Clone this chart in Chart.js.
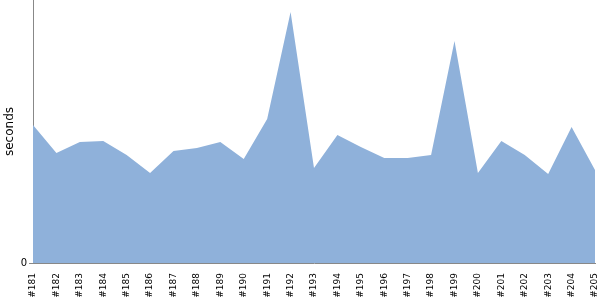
<!DOCTYPE html>
<html>
<head>
<meta charset="utf-8">
<script src="https://cdn.jsdelivr.net/npm/chart.js@4"></script>
<style>
  html, body { margin: 0; padding: 0; background: #fff; }
  #wrap { width: 600px; height: 300px; }
</style>
</head>
<body>
<div id="wrap"><canvas id="durationChart"></canvas></div>
<script>
// Build numbers on the x axis
const builds = ['#181', '#182', '#183', '#184', '#185', '#186', '#187', '#188', '#189', '#190',
  '#191', '#192', '#193', '#194', '#195', '#196', '#197', '#198', '#199', '#200',
  '#201', '#202', '#203', '#204', '#205'];

// Duration per build (seconds)
const durations = [138, 110, 121, 122, 108, 90, 112, 115, 121, 104,
  144, 251, 95, 128, 116, 105, 105, 108, 222, 90,
  122, 108, 89, 136, 93];

const yMax = 263;
const yTicks = [0];

const ctx = document.getElementById('durationChart').getContext('2d');
const chart = new Chart(ctx, {
  type: 'line',
  data: {
    labels: builds,
    datasets: [{
      data: durations,
      fill: 'origin',
      backgroundColor: 'rgb(143,177,218)',
      borderWidth: 0,
      pointRadius: 0,
      tension: 0
    }]
  },
  options: {
    responsive: true,
    maintainAspectRatio: false,
    animation: false,
    layout: { padding: { top: 0, right: 5, bottom: 0, left: 0 } },
    plugins: {
      legend: { display: false },
      tooltip: { enabled: false }
    },
    scales: {
      x: {
        offset: false,
        grid: { display: false },
        border: { display: true, color: '#888', width: 1 },
        ticks: {
          autoSkip: false,
          minRotation: 90,
          maxRotation: 90,
          padding: 2,
          color: '#000',
          font: { family: 'DejaVu Sans', size: 9 }
        },
        afterFit: (axis) => {
          axis.height = 37;
          axis.paddingLeft = 0;
          axis.paddingRight = 0;
        }
      },
      y: {
        min: 0,
        max: yMax,
        afterBuildTicks: (axis) => { axis.ticks = yTicks.map(v => ({ value: v })); },
        grid: { display: true, drawOnChartArea: false, drawTicks: true, tickLength: 4, color: '#888' },
        border: { display: true, color: '#888', width: 1 },
        ticks: {
          padding: 2,
          color: '#000',
          font: { family: 'DejaVu Sans', size: 10 }
        },
        title: {
          display: true,
          text: 'seconds',
          color: '#000',
          padding: { top: 3, bottom: 0 },
          font: { family: 'DejaVu Sans', size: 12 }
        },
        afterFit: (axis) => {
          axis.width = 33;
          axis.paddingTop = 0;
          axis.paddingBottom = 0;
        }
      }
    }
  }
});
</script>
</body>
</html>
